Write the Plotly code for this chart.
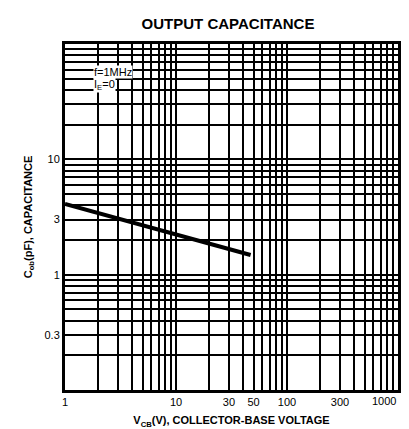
import math
import plotly.graph_objects as go

# Data
v_cb = [1, 10, 47]          # collector-base voltage (V)
c_ob = [4.1, 2.25, 1.48]    # output capacitance (pF)

x_tick_labels = [1, 10, 30, 50, 100, 300, 1000]
y_tick_labels = [0.3, 1, 3, 10]
x_decades = [0, 1, 2]       # 1..1000
y_decades = [-1, 0, 1]      # 0.1..100
mults = [1, 2, 3, 4, 5, 6, 7, 8, 9]

def fmt(v):
    return ("%g" % v)

def grid_ticks(decades, labels, skip_last_label=False):
    vals, texts = [], []
    for d in decades:
        for m in mults:
            v = round(m * 10 ** d, 6)
            vals.append(v)
            texts.append(fmt(v) if any(abs(v - l) < 1e-9 for l in labels) else "")
    top = round(10 ** (decades[-1] + 1), 6)
    vals.append(top)
    lab = any(abs(top - l) < 1e-9 for l in labels) and not skip_last_label
    texts.append(fmt(top) if lab else "")
    return vals, texts

# the last x label sits flush against the right frame, drawn separately below
xv, xt = grid_ticks(x_decades, x_tick_labels, skip_last_label=True)
yv, yt = grid_ticks(y_decades, y_tick_labels)

FONT = "Liberation Sans, Arial, Helvetica, sans-serif"

fig = go.Figure()
fig.add_trace(go.Scatter(x=v_cb, y=c_ob, mode="lines",
                         line=dict(color="black", width=4),
                         showlegend=False, hoverinfo="skip"))

fig.update_layout(
    width=409, height=429,
    margin=dict(l=65, r=11, t=44, b=39, autoexpand=False),
    paper_bgcolor="white", plot_bgcolor="white",
    title=dict(text="<b>OUTPUT CAPACITANCE</b>", x=228 / 409, xanchor="center",
               y=1 - 24 / 429, yanchor="middle",
               font=dict(family=FONT, size=15, color="black")),
    font=dict(family=FONT, size=11, color="black"),
)

fig.update_xaxes(type="log", range=[0, 3], tickmode="array",
                 tickvals=xv, ticktext=xt, ticks="",
                 showgrid=True, gridcolor="black", gridwidth=1.5,
                 showline=True, linecolor="black", linewidth=3, mirror=True,
                 ticklabelstandoff=0, automargin=False,
                 tickfont=dict(family=FONT, size=11, color="black"),
                 title=dict(text="<b>V<sub>CB</sub>(V), COLLECTOR-BASE VOLTAGE</b>",
                            font=dict(family=FONT, size=11, color="black"),
                            standoff=10),
                 zeroline=False)
fig.update_yaxes(type="log", range=[-1, 2], tickmode="array",
                 tickvals=yv, ticktext=yt, ticks="",
                 showgrid=True, gridcolor="black", gridwidth=1.5,
                 showline=True, linecolor="black", linewidth=3, mirror=True,
                 ticklabelstandoff=0, automargin=False,
                 tickfont=dict(family=FONT, size=11, color="black"),
                 title=dict(text="<b>C<sub>ob</sub>(pF), CAPACITANCE</b>",
                            font=dict(family=FONT, size=11, color="black"),
                            standoff=10),
                 zeroline=False)

# last x tick label, right-aligned to the frame (log axis: annotation x in log10 units)
fig.add_annotation(x=math.log10(x_tick_labels[-1]), y=0, xref="x", yref="paper",
                   text=fmt(x_tick_labels[-1]), showarrow=False,
                   xanchor="right", yanchor="top", yshift=-3,
                   font=dict(family=FONT, size=11, color="black"))

fig.add_annotation(x=0.25, y=1.76, xref="x", yref="y", text="f=1MHz",
                   showarrow=False, xanchor="left", yanchor="middle",
                   bgcolor="white", borderpad=0,
                   font=dict(family=FONT, size=11, color="black"))
fig.add_annotation(x=0.25, y=1.645, xref="x", yref="y", text="I<sub>E</sub>=0",
                   showarrow=False, xanchor="left", yanchor="middle",
                   bgcolor="white", borderpad=0,
                   font=dict(family=FONT, size=11, color="black"))

fig.write_html("out.html", config={"displayModeBar": False},
               post_script="document.body.style.margin='0';document.body.style.overflow='hidden';")
